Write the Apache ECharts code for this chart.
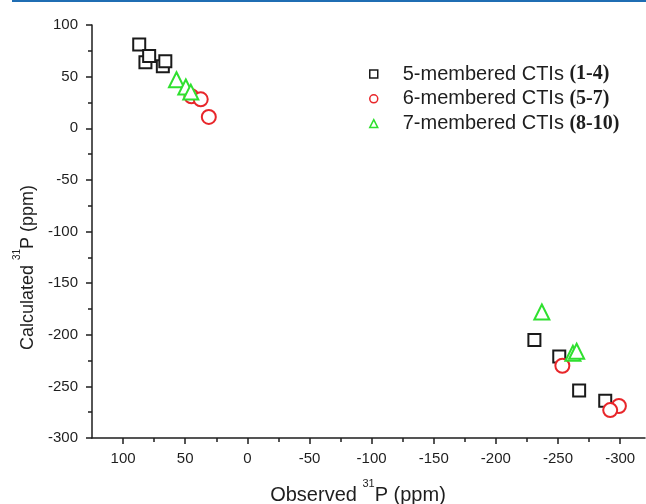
<!DOCTYPE html>
<html><head><meta charset="utf-8">
<script src="https://cdn.jsdelivr.net/npm/echarts@6/dist/echarts.min.js"></script>
<style>html,body{margin:0;padding:0;background:#fff}#c{width:646px;height:504px}</style>
</head><body><div id="c"></div>
<script>
// ---- data ----
const seriesNames = ['5-membered CTIs', '6-membered CTIs', '7-membered CTIs'];
const compoundLabels = ['(1-4)', '(5-7)', '(8-10)'];
const fiveObs  = [87, 82, 79, 68, 66, -231, -251, -267, -288];
const fiveCalc = [81, 64, 70, 60, 65, -205, -221, -254, -264];
const sixObs   = [45, 37.5, 31, -253.5, -299, -292];
const sixCalc  = [31, 28, 11, -230, -269, -273];
const sevenObs = [57, 49.5, 45.5, -237, -262, -265];
const sevenCalc= [47, 40, 35, -178, -218, -216];
const xTickLabels = [100, 50, 0, -50, -100, -150, -200, -250, -300];
const yTickLabels = [100, 50, 0, -50, -100, -150, -200, -250, -300];

// ---- layout ----
const W = 646, H = 504;
const gLeft = 92, gRight = 1, gTop = 25, gBottom = 66;
const xAxisMax = 125, xAxisMin = -320;
const tickStep = 50;
const xTickMax = Math.max(...xTickLabels), xTickMin = Math.min(...xTickLabels);
const kx = (W - gLeft - gRight) / (xAxisMax - xAxisMin);
const g1Left = gLeft + (xAxisMax - xTickMax) * kx;
const g1Right = gRight + (xTickMin - xAxisMin) * kx;

const zip = (a, b) => a.map((v, i) => [v, b[i]]);
const ink = '#1e1e1e';
const colors = ['#1a1a1a', '#e8262a', '#2fe02f'];

const titleRich = (size, supSize) => ({
  t: { fontSize: size, fontFamily: 'Liberation Sans, Arial, sans-serif', color: ink, padding: [7, 0, 0, 0] },
  s: { fontSize: supSize, fontFamily: 'Liberation Sans, Arial, sans-serif', color: ink, verticalAlign: 'top' }
});

const chart = echarts.init(document.getElementById('c'), null, { renderer: 'canvas' });
chart.setOption({
  animation: false,
  backgroundColor: '#fff',
  graphic: [{ type: 'rect', shape: { x: 12, y: 0, width: W - 12, height: 2 }, style: { fill: '#1f6db3' }, silent: true }],
  grid: [
    { left: gLeft, right: gRight, top: gTop, bottom: gBottom, containLabel: false, outerBoundsMode: 'none' },
    { left: g1Left, right: g1Right, top: gTop, bottom: gBottom, containLabel: false, outerBoundsMode: 'none' }
  ],
  legend: {
    orient: 'vertical', left: 364, top: 59, itemWidth: 8, itemHeight: 8, itemGap: 4.8,
    data: seriesNames.map((n, i) => n + ' ' + compoundLabels[i]),
    itemStyle: { borderWidth: 1.5 },
    formatter: name => {
      const i = seriesNames.findIndex((n, j) => n + ' ' + compoundLabels[j] === name);
      return '{a|' + seriesNames[i] + ' }{b|' + compoundLabels[i] + '}';
    },
    textStyle: {
      rich: {
        a: { fontSize: 20, fontFamily: 'Liberation Sans, Arial, sans-serif', color: ink, padding: [0, 0, 0, 20] },
        b: { fontSize: 20, fontFamily: 'Liberation Serif, Times New Roman, serif', fontWeight: 'bold', color: ink }
      }
    }
  },
  xAxis: [
    {
      gridIndex: 0, type: 'value', inverse: true, min: xAxisMin, max: xAxisMax,
      axisLine: { onZero: false, lineStyle: { color: ink, width: 1.5 } },
      axisTick: { show: false }, axisLabel: { show: false }, splitLine: { show: false },
      name: '{t|Observed }{s|31}{t|P (ppm)}', nameLocation: 'middle', nameGap: 40,
      nameTextStyle: { rich: titleRich(20, 11), padding: [0, 21, 0, 0] }
    },
    {
      gridIndex: 1, type: 'value', inverse: true, min: xTickMin, max: xTickMax, interval: tickStep,
      axisLine: { show: false, onZero: false },
      axisTick: { show: true, inside: false, length: 6, lineStyle: { color: ink, width: 1.5 } },
      minorTick: { show: true, splitNumber: 2, length: 4, lineStyle: { color: ink, width: 1.5 } },
      axisLabel: { margin: 13, fontSize: 15, fontFamily: 'Liberation Sans, Arial, sans-serif', color: ink },
      splitLine: { show: false }
    }
  ],
  yAxis: [
    {
      gridIndex: 0, type: 'value', min: Math.min(...yTickLabels), max: Math.max(...yTickLabels), interval: tickStep,
      axisLine: { onZero: false, lineStyle: { color: ink, width: 1.5 } },
      axisTick: { show: true, inside: false, length: 6, lineStyle: { color: ink, width: 1.5 } },
      minorTick: { show: true, splitNumber: 2, length: 4, lineStyle: { color: ink, width: 1.5 } },
      axisLabel: { margin: 14, fontSize: 15, fontFamily: 'Liberation Sans, Arial, sans-serif', color: ink },
      splitLine: { show: false },
      name: '{t|Calculated }{s|31}{t|P (ppm)}', nameLocation: 'middle', nameGap: 50, nameRotate: 90,
      nameTextStyle: { rich: titleRich(18, 10), padding: [0, 72, 0, 0] }
    },
    { gridIndex: 1, type: 'value', show: false, min: 0, max: 1 }
  ],
  series: [
    { name: seriesNames[0] + ' ' + compoundLabels[0], type: 'scatter', data: zip(fiveObs, fiveCalc),
      symbol: 'rect', symbolSize: 12,
      itemStyle: { color: '#fff', borderColor: colors[0], borderWidth: 2, opacity: 1 } },
    { name: seriesNames[1] + ' ' + compoundLabels[1], type: 'scatter', data: zip(sixObs, sixCalc),
      symbol: 'circle', symbolSize: 14,
      itemStyle: { color: '#fff', borderColor: colors[1], borderWidth: 2, opacity: 1 } },
    { name: seriesNames[2] + ' ' + compoundLabels[2], type: 'scatter', data: zip(sevenObs, sevenCalc),
      symbol: 'triangle', symbolSize: 15,
      itemStyle: { color: '#fff', borderColor: colors[2], borderWidth: 2, opacity: 1 } }
  ]
});
</script>
</body></html>
